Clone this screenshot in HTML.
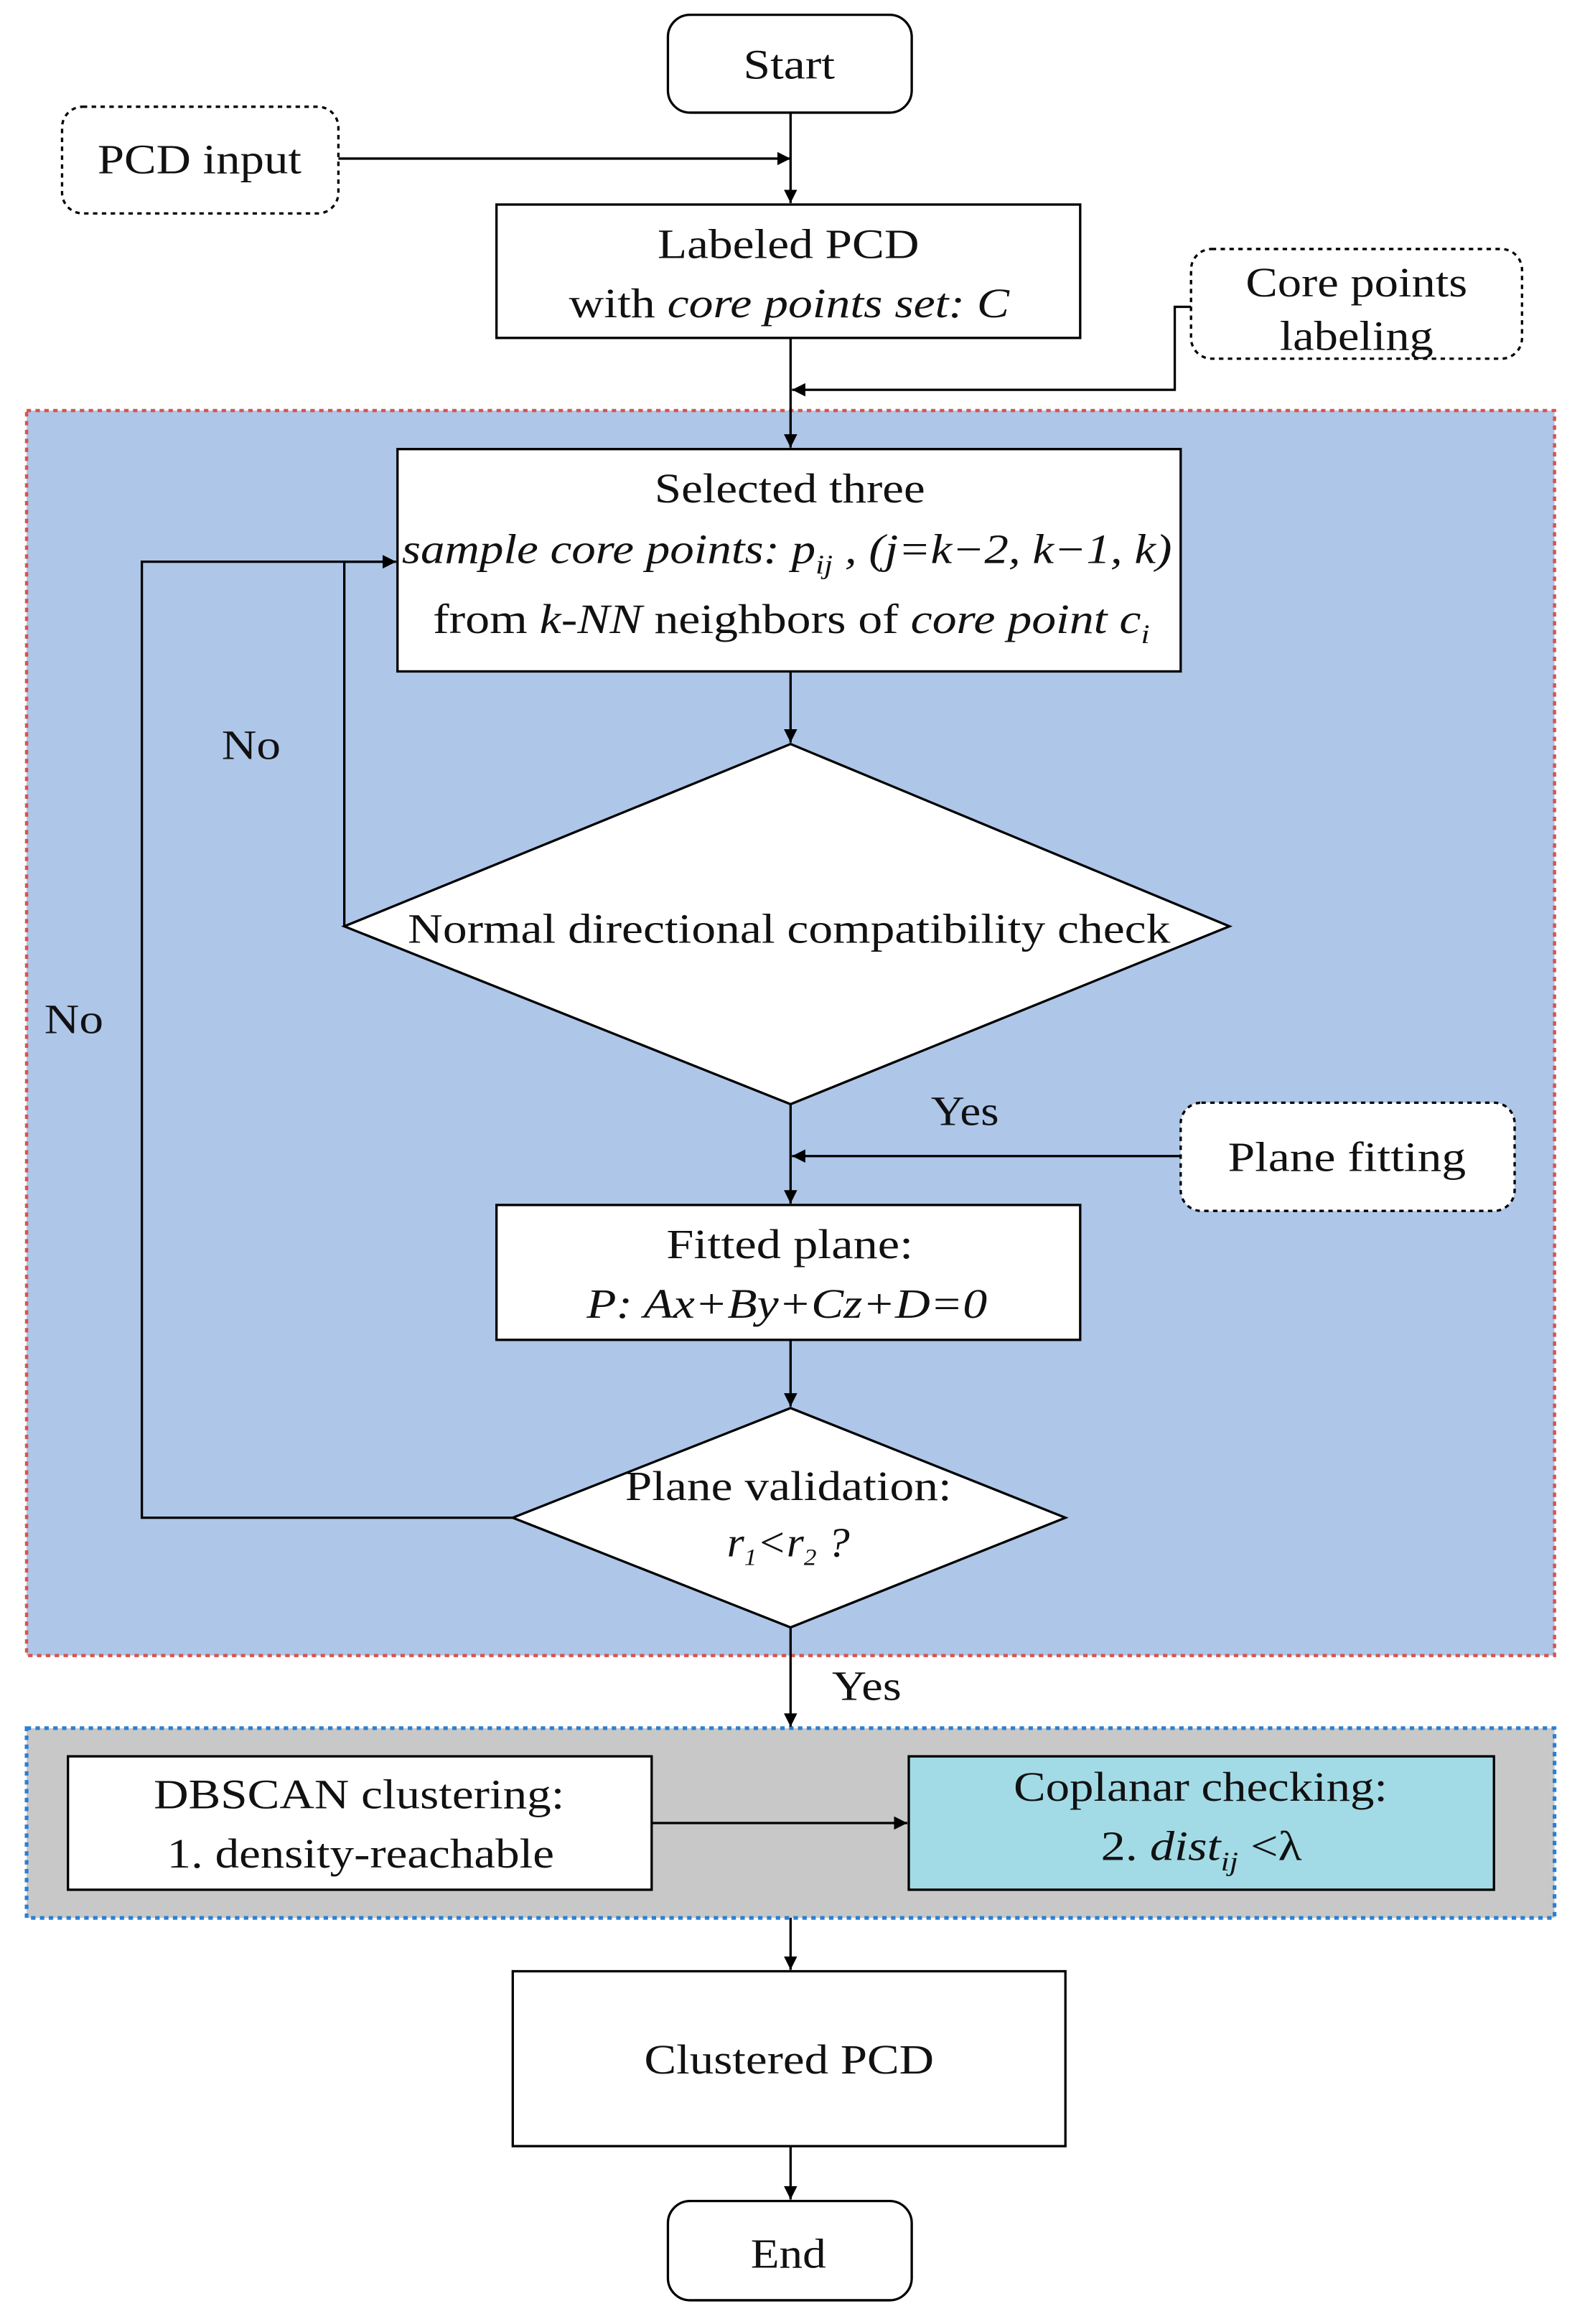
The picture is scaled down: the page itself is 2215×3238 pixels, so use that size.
<!DOCTYPE html>
<html><head><meta charset="utf-8"><style>
html,body{margin:0;padding:0;background:#fff;}
svg{display:block;}
text{font-family:"Liberation Serif",serif;font-size:28px;fill:#111;}
</style></head><body>
<svg width="2215" height="3238" viewBox="0 0 1076 1568" preserveAspectRatio="none" xmlns="http://www.w3.org/2000/svg">
<defs>
<marker id="a" viewBox="0 0 10 10" refX="10" refY="5" markerWidth="9" markerHeight="9" markerUnits="userSpaceOnUse" orient="auto"><path d="M0,0L10,5L0,10z" fill="#000"/></marker>
</defs>
<g stroke="#000" stroke-width="1.6" fill="none">
<rect x="18" y="277" width="1034" height="840" fill="#aec6e8" stroke="#d9534f" stroke-width="2.2" stroke-dasharray="3,3"/>
<rect x="18" y="1166" width="1034" height="128" fill="#c8c8c8" stroke="#2a7fd4" stroke-width="2.5" stroke-dasharray="3,3"/>
<rect x="452" y="10" width="165" height="66" rx="15" fill="#fff"/>
<rect x="42" y="72" width="187" height="72" rx="14" fill="#fff" stroke-dasharray="3,3"/>
<rect x="336" y="138" width="395" height="90" fill="#fff"/>
<rect x="806" y="168" width="224" height="74" rx="14" fill="#fff" stroke-dasharray="3,3"/>
<rect x="269" y="303" width="530" height="150" fill="#fff"/>
<polygon points="535,502 832,625 535,745 233,625" fill="#fff"/>
<rect x="799" y="744" width="226" height="73" rx="14" fill="#fff" stroke-dasharray="3,3"/>
<rect x="336" y="813" width="395" height="91" fill="#fff"/>
<polygon points="535,950 721,1024 535,1098 347,1024" fill="#fff"/>
<rect x="46" y="1185" width="395" height="90" fill="#fff"/>
<rect x="615" y="1185" width="396" height="90" fill="#a2dbe6"/>
<rect x="347" y="1330" width="374" height="118" fill="#fff"/>
<rect x="452" y="1485" width="165" height="67" rx="15" fill="#fff"/>
<line x1="535" y1="76" x2="535" y2="137" marker-end="url(#a)"/>
<line x1="229" y1="107" x2="535" y2="107" marker-end="url(#a)"/>
<line x1="535" y1="228" x2="535" y2="302" marker-end="url(#a)"/>
<polyline points="806,207 795,207 795,263 536,263" marker-end="url(#a)"/>
<line x1="535" y1="453" x2="535" y2="501" marker-end="url(#a)"/>
<polyline points="233,625 233,379 268,379" marker-end="url(#a)"/>
<polyline points="347,1024 96,1024 96,379 268,379" marker-end="url(#a)"/>
<line x1="535" y1="745" x2="535" y2="812" marker-end="url(#a)"/>
<line x1="799" y1="780" x2="536" y2="780" marker-end="url(#a)"/>
<line x1="535" y1="904" x2="535" y2="949" marker-end="url(#a)"/>
<line x1="535" y1="1098" x2="535" y2="1165" marker-end="url(#a)"/>
<line x1="441" y1="1230" x2="614" y2="1230" marker-end="url(#a)"/>
<line x1="535" y1="1294" x2="535" y2="1329" marker-end="url(#a)"/>
<line x1="535" y1="1448" x2="535" y2="1484" marker-end="url(#a)"/>
</g>
<g lengthAdjust="spacingAndGlyphs">
<text x="503" y="53" textLength="62" lengthAdjust="spacingAndGlyphs">Start</text>
<text x="66" y="117" textLength="138" lengthAdjust="spacingAndGlyphs">PCD input</text>
<text x="445" y="174" textLength="177" lengthAdjust="spacingAndGlyphs">Labeled PCD</text>
<text x="385" y="214" textLength="298" lengthAdjust="spacingAndGlyphs">with <tspan font-style="italic">core points set: C</tspan></text>
<text x="843" y="200" textLength="150" lengthAdjust="spacingAndGlyphs">Core points</text>
<text x="866" y="236" textLength="104" lengthAdjust="spacingAndGlyphs">labeling</text>
<text x="443" y="339" textLength="183" lengthAdjust="spacingAndGlyphs">Selected three</text>
<text x="272" y="380" font-style="italic" textLength="521" lengthAdjust="spacingAndGlyphs">sample core points: p<tspan font-size="18" dy="7">ij</tspan><tspan dy="-7"> , (j=k−2, k−1, k)</tspan></text>
<text x="293" y="427" textLength="485" lengthAdjust="spacingAndGlyphs">from <tspan font-style="italic">k-NN</tspan> neighbors of <tspan font-style="italic">core point c<tspan font-size="18" dy="7">i</tspan></tspan></text>
<text x="276" y="636" textLength="516" lengthAdjust="spacingAndGlyphs">Normal directional compatibility check</text>
<text x="150" y="512" textLength="40" lengthAdjust="spacingAndGlyphs">No</text>
<text x="30" y="697" textLength="40" lengthAdjust="spacingAndGlyphs">No</text>
<text x="630" y="759" textLength="46" lengthAdjust="spacingAndGlyphs">Yes</text>
<text x="831" y="790" textLength="161" lengthAdjust="spacingAndGlyphs">Plane fitting</text>
<text x="451" y="849" textLength="167" lengthAdjust="spacingAndGlyphs">Fitted plane:</text>
<text x="397" y="889" font-style="italic" textLength="271" lengthAdjust="spacingAndGlyphs">P: Ax+By+Cz+D=0</text>
<text x="423" y="1012" textLength="221" lengthAdjust="spacingAndGlyphs">Plane validation:</text>
<text x="492" y="1050" font-style="italic" font-size="25" textLength="83" lengthAdjust="spacingAndGlyphs">r<tspan font-size="16" dy="6">1</tspan><tspan dy="-6">&lt;r</tspan><tspan font-size="16" dy="6">2</tspan><tspan dy="-6"> ?</tspan></text>
<text x="563" y="1147" textLength="47" lengthAdjust="spacingAndGlyphs">Yes</text>
<text x="104" y="1220" textLength="278" lengthAdjust="spacingAndGlyphs">DBSCAN clustering:</text>
<text x="113" y="1260" textLength="262" lengthAdjust="spacingAndGlyphs">1. density-reachable</text>
<text x="686" y="1215" textLength="253" lengthAdjust="spacingAndGlyphs">Coplanar checking:</text>
<text x="745" y="1255" textLength="136" lengthAdjust="spacingAndGlyphs">2. <tspan font-style="italic">dist<tspan font-size="18" dy="7">ij</tspan></tspan><tspan dy="-7"> &lt;λ</tspan></text>
<text x="436" y="1399" textLength="196" lengthAdjust="spacingAndGlyphs">Clustered PCD</text>
<text x="508" y="1530" textLength="51" lengthAdjust="spacingAndGlyphs">End</text>
</g>
</svg>
</body></html>
